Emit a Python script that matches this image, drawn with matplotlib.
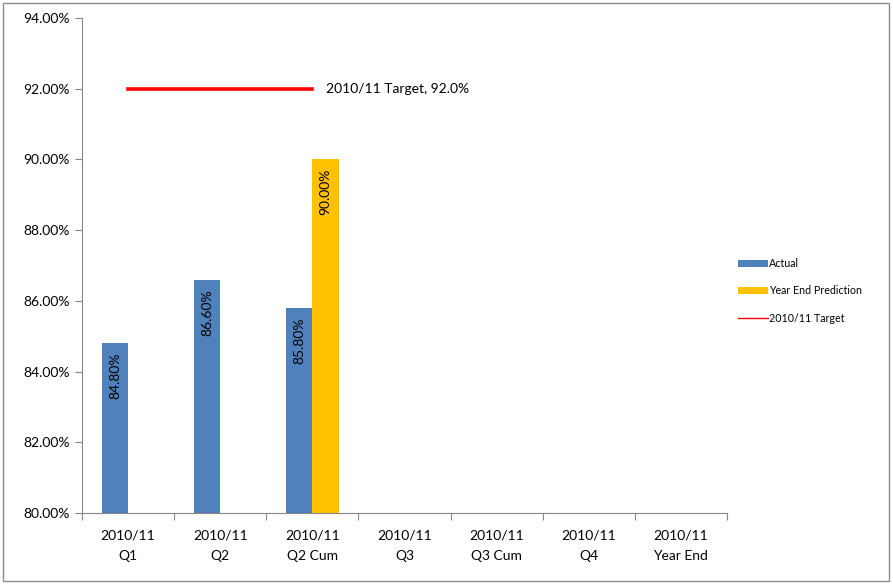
import matplotlib
matplotlib.use("Agg")
import matplotlib.pyplot as plt
import numpy as np
from matplotlib.patches import Rectangle
from matplotlib.lines import Line2D
from matplotlib.patches import Patch

plt.rcParams['font.family'] = ['Lato', 'DejaVu Sans']

categories = ["2010/11\nQ1", "2010/11\nQ2", "2010/11\nQ2 Cum", "2010/11\nQ3",
              "2010/11\nQ3 Cum", "2010/11\nQ4", "2010/11\nYear End"]
actual = [84.80, 86.60, 85.80, None, None, None, None]
prediction = [None, None, 90.00, None, None, None, None]
target = [92.0, 92.0, 92.0, None, None, None, None]
yticks = [80, 82, 84, 86, 88, 90, 92, 94]

W, H = 893, 584
fig = plt.figure(figsize=(W / 100, H / 100), dpi=100)
fig.patches.append(Rectangle((3 / W, 3 / H), 886 / W, 578 / H, transform=fig.transFigure,
                             fill=False, edgecolor='#8c8c8c', linewidth=1))
ax = fig.add_axes([82 / W, (H - 513) / H, (727 - 82) / W, (513 - 18) / H])

x = np.arange(len(categories))
bw = 0.285
for i, v in enumerate(actual):
    if v is not None:
        ax.bar(x[i] - bw / 2, v - 80, bw, bottom=80, color='#4F81BD', zorder=2)
        ax.text(x[i] - bw / 2, v - 0.27, f"{v:.2f}%", rotation=90, ha='center', va='top',
                fontsize=10, color='#000000', zorder=3)
for i, v in enumerate(prediction):
    if v is not None:
        ax.bar(x[i] + bw / 2, v - 80, bw, bottom=80, color='#FFC000', zorder=2)
        ax.text(x[i] + bw / 2, v - 0.27, f"{v:.2f}%", rotation=90, ha='center', va='top',
                fontsize=10, color='#000000', zorder=3)

tx = [x[i] for i, v in enumerate(target) if v is not None]
ty = [v for v in target if v is not None]
ax.plot(tx, ty, color='#FF0000', linewidth=2.6, zorder=3)
ax.text(tx[-1] + 0.15, ty[-1], f"2010/11 Target, {ty[-1]:.1f}%", va='center', ha='left',
        fontsize=10)

ax.set_xlim(-0.5, len(categories) - 0.5)
ax.set_ylim(80, 94)
ax.set_yticks(yticks)
ax.set_yticklabels([f"{t:.2f}%" for t in yticks], fontsize=10)
ax.set_xticks(np.arange(len(categories) + 1) - 0.5)
ax.set_xticklabels([])
ax.set_xticks(x, minor=True)
ax.set_xticklabels(categories, minor=True, fontsize=10, linespacing=1.8)
ax.tick_params(axis='x', which='minor', length=0, pad=12)
ax.tick_params(axis='x', which='major', length=5, color='#868686')
ax.tick_params(axis='y', length=5, color='#868686', pad=4)
for s in ['top', 'right']:
    ax.spines[s].set_visible(False)
for s in ['left', 'bottom']:
    ax.spines[s].set_color('#868686')

handles = [Patch(facecolor='#4F81BD', label='Actual'),
           Patch(facecolor='#FFC000', label='Year End Prediction'),
           Line2D([0], [0], color='#FF0000', linewidth=1, label='2010/11 Target')]
fig.legend(handles=handles, loc='center left', bbox_to_anchor=(728 / W, (H - 291) / H),
           frameon=False, fontsize=7.7, handlelength=2.8, handleheight=0.6,
           labelspacing=1.55, handletextpad=0.1)

fig.savefig("out.png", dpi=100)
